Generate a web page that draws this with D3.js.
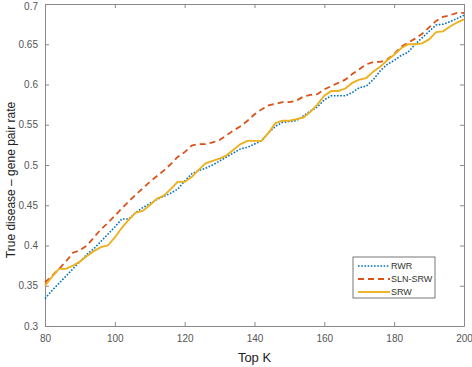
<!DOCTYPE html>
<html>
<head>
<meta charset="utf-8">
<script src="https://cdn.jsdelivr.net/npm/d3@7"></script>
<style>
  body { margin: 0; background: #fff; }
  svg { font-family: "Liberation Sans", Arial, sans-serif; }
</style>
</head>
<body>
<div id="chart"></div>
<script>
// K values, step 2
const topK = d3.range(80, 201, 2);

const rwr = [
  0.334, 0.344, 0.353, 0.362, 0.371, 0.380, 0.389, 0.396, 0.405, 0.414,
  0.423, 0.433, 0.433, 0.441, 0.447, 0.452, 0.457, 0.461, 0.465, 0.470,
  0.480, 0.489, 0.493, 0.496, 0.500, 0.505, 0.510, 0.515, 0.520, 0.522,
  0.526, 0.530, 0.540, 0.548, 0.553, 0.554, 0.555, 0.561, 0.567, 0.572,
  0.581, 0.586, 0.586, 0.586, 0.590, 0.596, 0.598, 0.606, 0.617, 0.625,
  0.630, 0.636, 0.640, 0.650, 0.658, 0.666, 0.674, 0.675, 0.678, 0.682,
  0.686
];
const slnSrw = [
  0.354, 0.362, 0.371, 0.380, 0.391, 0.394, 0.400, 0.410, 0.420, 0.428,
  0.437, 0.446, 0.455, 0.463, 0.471, 0.479, 0.486, 0.493, 0.501, 0.510,
  0.516, 0.524, 0.526, 0.526, 0.528, 0.531, 0.537, 0.543, 0.548, 0.555,
  0.563, 0.569, 0.574, 0.576, 0.578, 0.578, 0.580, 0.585, 0.587, 0.588,
  0.594, 0.598, 0.602, 0.606, 0.613, 0.619, 0.625, 0.628, 0.628, 0.631,
  0.638, 0.647, 0.652, 0.657, 0.663, 0.671, 0.679, 0.684, 0.686, 0.689,
  0.689
];
const srw = [
  0.350, 0.361, 0.371, 0.371, 0.375, 0.380, 0.387, 0.393, 0.398, 0.400,
  0.410, 0.422, 0.432, 0.441, 0.443, 0.450, 0.458, 0.462, 0.470, 0.479,
  0.479, 0.485, 0.494, 0.502, 0.505, 0.508, 0.512, 0.519, 0.526, 0.530,
  0.530, 0.530, 0.540, 0.552, 0.555, 0.555, 0.557, 0.559, 0.566, 0.575,
  0.586, 0.592, 0.592, 0.595, 0.602, 0.606, 0.608, 0.616, 0.622, 0.630,
  0.637, 0.645, 0.650, 0.650, 0.651, 0.656, 0.665, 0.666, 0.672, 0.677,
  0.681
];

const xTicks = [80, 100, 120, 140, 160, 180, 200];
const yTicks = [0.3, 0.35, 0.4, 0.45, 0.5, 0.55, 0.6, 0.65, 0.7];

const series = [
  { name: "RWR", values: rwr, color: "#0072BD", dash: "1.6,1.6", width: 1.6 },
  { name: "SLN-SRW", values: slnSrw, color: "#D95319", dash: "6,4", width: 1.8 },
  { name: "SRW", values: srw, color: "#EDB120", dash: null, width: 1.9 }
];

const width = 472, height = 367;
const margin = { t: 4, l: 45, r: 8, b: 41 };
const inner_w = width - margin.l - margin.r;
const inner_h = height - margin.t - margin.b;

const svg = d3.select("#chart").append("svg")
  .attr("width", width).attr("height", height);

const x_scale = d3.scaleLinear().domain([80, 200]).range([0, inner_w]);
const y_scale = d3.scaleLinear().domain([0.3, 0.7]).range([inner_h, 0]);

const graph = svg.append("g")
  .attr("transform", "translate(" + margin.l + "," + margin.t + ")");

const axisColor = "#8a8a8a";
const textColor = "#555";

// axes, ticks inward like matlab
const fmtY = d => d3.format("")(+d.toFixed(2));
const styleAxis = g => {
  g.select(".domain").attr("stroke", axisColor);
  g.selectAll(".tick line").attr("stroke", axisColor);
  g.selectAll(".tick text").attr("fill", textColor).style("font-size", "10px")
    .style("font-family", "'Liberation Sans', Arial, sans-serif");
};

graph.append("g")
  .attr("transform", "translate(0," + inner_h + ")")
  .call(d3.axisBottom(x_scale).tickValues(xTicks).tickSizeInner(-4).tickSizeOuter(0).tickPadding(9))
  .call(styleAxis);
graph.append("g")
  .call(d3.axisTop(x_scale).tickValues(xTicks).tickSizeInner(-4).tickSizeOuter(0).tickFormat(""))
  .call(styleAxis);
const yAxis = graph.append("g")
  .call(d3.axisLeft(y_scale).tickValues(yTicks).tickFormat(fmtY).tickSizeInner(-4).tickSizeOuter(0).tickPadding(7))
  .call(styleAxis);
// keep the top label inside the window
yAxis.selectAll(".tick text").filter(d => d === 0.7).attr("dy", "0.55em");
graph.append("g")
  .attr("transform", "translate(" + inner_w + ",0)")
  .call(d3.axisRight(y_scale).tickValues(yTicks).tickSizeInner(-4).tickSizeOuter(0).tickFormat(""))
  .call(styleAxis);

// lines
const line = d3.line()
  .x((d, i) => x_scale(topK[i]))
  .y(d => y_scale(d));

series.forEach(s => {
  graph.append("path")
    .datum(s.values)
    .attr("fill", "none")
    .attr("stroke", s.color)
    .attr("stroke-width", s.width)
    .attr("stroke-dasharray", s.dash)
    .attr("d", line);
});

// axis labels
svg.append("text")
  .attr("x", margin.l + inner_w / 2).attr("y", 362)
  .attr("text-anchor", "middle")
  .attr("fill", "#222").style("font-size", "13px")
  .text("Top K");

svg.append("text")
  .attr("transform", "translate(14.5,180) rotate(-90)")
  .attr("text-anchor", "middle")
  .attr("fill", "#222").style("font-size", "12px")
  .text("True disease \u2013 gene pair rate");

// legend
const legend = svg.append("g").attr("transform", "translate(353,257)");
legend.append("rect")
  .attr("width", 82).attr("height", 41)
  .attr("fill", "#fff").attr("stroke", "#555").attr("stroke-width", 0.8);
series.forEach((s, i) => {
  const yy = 9 + i * 13;
  legend.append("line")
    .attr("x1", 5).attr("x2", 37).attr("y1", yy).attr("y2", yy)
    .attr("stroke", s.color).attr("stroke-width", s.width)
    .attr("stroke-dasharray", s.dash);
  legend.append("text")
    .attr("x", 38).attr("y", yy + 3.2)
    .attr("fill", "#333").style("font-size", "9px")
    .text(s.name);
});
</script>
</body>
</html>
